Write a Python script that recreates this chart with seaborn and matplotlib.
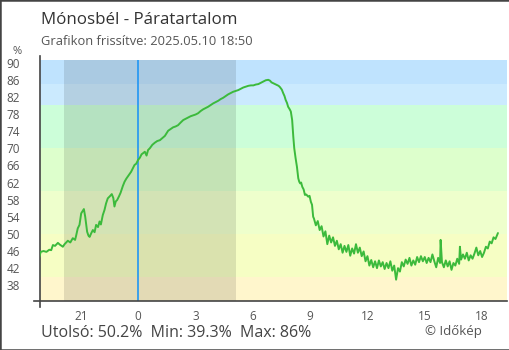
import matplotlib
matplotlib.use("Agg")
import matplotlib.pyplot as plt
from matplotlib.patches import Rectangle
import seaborn as sns

# Relative humidity (%) over the last 24 hours; time in hours relative to midnight
hours = [
    -5.17, -5.10, -4.95, -4.80, -4.65, -4.55, -4.46, -4.35, -4.20, -4.10,
    -3.94, -3.85, -3.68, -3.55, -3.42, -3.30, -3.25, -3.16, -3.07, -2.98,
    -2.84, -2.77, -2.67, -2.60, -2.54, -2.45, -2.37, -2.28, -2.20, -2.10,
    -2.02, -1.95, -1.85, -1.76, -1.68, -1.59, -1.48, -1.38, -1.30, -1.24,
    -1.17, -1.10, -1.00, -0.92, -0.80, -0.71, -0.62, -0.54, -0.45, -0.37,
    -0.28, -0.19, -0.10, 0.00, 0.09, 0.18, 0.27, 0.35, 0.44, 0.52,
    0.61, 0.74, 0.87, 1.00, 1.14, 1.27, 1.40, 1.57, 1.70, 1.83,
    1.96, 2.09, 2.22, 2.36, 2.49, 2.62, 2.75, 2.88, 3.01, 3.14,
    3.27, 3.40, 3.53, 3.66, 3.80, 3.93, 4.06, 4.19, 4.32, 4.45,
    4.58, 4.71, 4.84, 4.97, 5.10, 5.24, 5.37, 5.50, 5.64, 5.77,
    5.90, 6.03, 6.16, 6.29, 6.42, 6.55, 6.68, 6.81, 6.90, 6.98,
    7.12, 7.25, 7.35, 7.42, 7.52, 7.59, 7.66, 7.72, 7.79, 7.85,
    7.92, 7.99, 8.06, 8.09, 8.12, 8.17, 8.24, 8.31, 8.38, 8.43,
    8.48, 8.53, 8.59, 8.66, 8.73, 8.80, 8.90, 8.97, 9.04, 9.10,
    9.16, 9.20, 9.30, 9.40, 9.50, 9.60, 9.70, 9.80, 9.90, 10.00,
    10.10, 10.20, 10.30, 10.40, 10.50, 10.60, 10.70, 10.80, 10.90, 11.00,
    11.10, 11.20, 11.30, 11.40, 11.50, 11.60, 11.70, 11.80, 11.90, 12.00,
    12.10, 12.20, 12.30, 12.40, 12.50, 12.60, 12.70, 12.80, 12.90, 13.00,
    13.10, 13.20, 13.30, 13.40, 13.50, 13.60, 13.70, 13.80, 13.90, 14.00,
    14.10, 14.20, 14.30, 14.40, 14.50, 14.60, 14.70, 14.80, 14.90, 15.00,
    15.10, 15.20, 15.30, 15.40, 15.50, 15.60, 15.70, 15.80, 15.83, 15.90,
    16.00, 16.10, 16.20, 16.30, 16.40, 16.50, 16.60, 16.70, 16.80, 16.84,
    16.90, 17.00, 17.10, 17.20, 17.30, 17.40, 17.50, 17.60, 17.70, 17.80,
    17.90, 18.00, 18.10, 18.20, 18.30, 18.40, 18.50, 18.60, 18.70, 18.83,
]
humidity = [
    44.6, 45.8, 46.0, 45.8, 46.3, 46.2, 47.4, 47.2, 47.9, 47.5,
    47.0, 47.6, 48.4, 48.0, 49.0, 48.6, 49.5, 51.3, 52.1, 54.8,
    55.8, 54.0, 50.5, 49.6, 49.3, 50.2, 50.9, 50.4, 52.1, 51.6,
    52.9, 52.2, 54.4, 55.6, 57.1, 58.3, 58.8, 59.3, 58.4, 56.4,
    57.6, 57.9, 58.8, 59.6, 61.2, 62.2, 62.9, 63.4, 64.0, 64.5,
    65.3, 66.1, 66.4, 67.3, 67.8, 68.6, 68.9, 69.2, 68.3, 69.6,
    70.0, 70.8, 71.3, 71.7, 71.9, 72.4, 72.9, 74.1, 74.5, 74.9,
    75.1, 75.4, 76.0, 76.6, 76.9, 77.2, 77.5, 77.7, 77.9, 78.2,
    78.7, 79.1, 79.4, 79.7, 80.1, 80.5, 80.8, 81.1, 81.5, 81.8,
    82.2, 82.6, 82.9, 83.2, 83.4, 83.6, 83.9, 84.2, 84.4, 84.6,
    84.7, 84.7, 84.9, 85.0, 85.3, 85.6, 85.9, 86.0, 85.8, 85.4,
    85.1, 84.8, 84.6, 84.3, 83.7, 82.9, 82.2, 81.3, 80.6, 79.7,
    79.2, 78.6, 76.6, 74.5, 72.7, 70.0, 67.7, 65.7, 63.0, 62.2,
    61.8, 62.0, 61.0, 60.4, 59.1, 59.2, 58.7, 58.9, 57.5, 56.8,
    54.0, 53.6, 52.0, 53.0, 50.9, 51.8, 49.4, 50.6, 47.6, 49.6,
    48.0, 49.2, 47.2, 48.4, 46.4, 47.6, 45.6, 47.2, 45.8, 47.4,
    44.9, 46.6, 45.4, 47.6, 45.6, 46.8, 44.8, 45.9, 43.6, 44.8,
    42.6, 43.9, 42.2, 43.6, 42.0, 43.8, 42.4, 43.4, 41.8, 43.2,
    42.0, 43.6, 41.4, 42.6, 39.3, 42.0, 41.2, 43.4, 42.4, 44.0,
    43.0, 44.4, 42.6, 43.8, 42.8, 44.6, 43.4, 44.8, 43.6, 44.6,
    43.2, 44.4, 43.4, 45.2, 43.6, 42.2, 44.4, 43.2, 48.6, 43.4,
    42.2, 43.8, 42.4, 43.6, 41.6, 43.2, 42.6, 44.2, 43.0, 47.0,
    44.0, 45.2, 44.2, 45.6, 43.8, 45.0, 44.2, 45.4, 46.8, 45.0,
    46.0, 44.6, 45.6, 47.0, 46.6, 48.2, 47.8, 49.2, 48.8, 50.2,
]

# Background humidity bands
band_edges = [0, 40, 50, 60, 70, 80, 85, 100]
band_colors = ["#fff6cc", "#f6fec4", "#eeffcc", "#ddffcc", "#ccfed9", "#cbeafe", "#bfe3fe"]

# Night between sunset and sunrise
sunset, sunrise = -3.89, 5.11

xtick_pos = [-3, 0, 3, 6, 9, 12, 15, 18]
xtick_labels = ["21", "0", "3", "6", "9", "12", "15", "18"]
ytick_pos = list(range(38, 91, 4))

title = "Mónosbél - Páratartalom"
subtitle = "Grafikon frissítve: 2025.05.10 18:50"
stats = "Utolsó: 50.2%  Min: 39.3%  Max: 86%"
credit = "© Időkép"

sns.set_style("white")
plt.rcParams["font.family"] = ["Open Sans", "DejaVu Sans"]

W, H = 510, 350
fig = plt.figure(figsize=(W / 100, H / 100), dpi=100)
ax = fig.add_axes([40.5 / W, 1 - 300.5 / H, 467 / W, 240.5 / H])

xmin, xmax = -5.11, 19.33
ymin, ymax = 34.44, 90.63
ax.set_xlim(xmin, xmax)
ax.set_ylim(ymin, ymax)

for lo, hi, c in zip(band_edges[:-1], band_edges[1:], band_colors):
    ax.axhspan(lo, hi, color=c, lw=0, zorder=0)
ax.axvspan(sunset, sunrise, color="black", alpha=0.11, lw=0, zorder=1)
ax.axvline(0, color="#2196f3", lw=1.2, zorder=2)

sns.lineplot(x=hours, y=humidity, color="#3cba3c", lw=1.4, errorbar=None,
             ax=ax, zorder=3)

ax.set_xticks(xtick_pos)
ax.set_xticklabels(xtick_labels)
ax.set_yticks(ytick_pos)
ax.set_xlabel("")
ax.set_ylabel("")
ax.tick_params(direction="inout", length=9, width=1, color="#444",
               labelcolor="#555", labelsize=8.5)
ax.tick_params(axis="y", pad=10.4)
ax.tick_params(axis="x", pad=2.7)

for side in ("top", "right"):
    ax.spines[side].set_visible(False)
for side in ("left", "bottom"):
    ax.spines[side].set_color("#444")
    ax.spines[side].set_linewidth(1.2)
ax.spines["left"].set_bounds(ymin - 6.2 / 4.282, ymax + 4.5 / 4.282)
ax.spines["bottom"].set_bounds(xmin - 6.7 / 19.12, xmax)

fig.text(40.7 / W, 1 - 24.3 / H, title, ha="left", va="baseline",
         fontsize=12.2, color="#333")
fig.text(40.7 / W, 1 - 44.7 / H, subtitle, ha="left", va="baseline",
         fontsize=9.3, color="#555")
fig.text(17 / W, 1 - 51 / H, "%", ha="center", va="center",
         fontsize=8, color="#555")
fig.text(40.7 / W, 1 - 333 / H, stats, ha="left", va="center",
         fontsize=11.5, color="#444")
fig.text(425 / W, 1 - 332 / H, credit, ha="left", va="center",
         fontsize=9.5, color="#555")

fig.patches.append(Rectangle((0, 0), 1, 1, transform=fig.transFigure,
                             fill=False, ec="#444", lw=1.8))

fig.savefig("out.png", dpi=100)
